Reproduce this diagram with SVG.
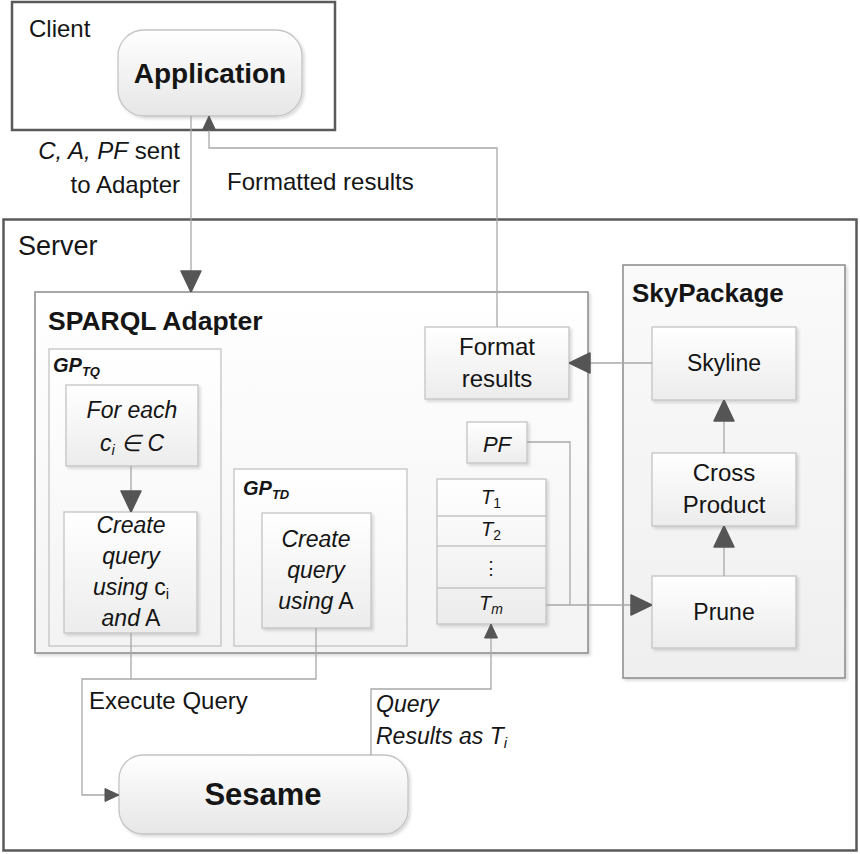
<svg xmlns="http://www.w3.org/2000/svg" width="860" height="854" viewBox="0 0 860 854">
  <defs>
    <linearGradient id="boxFill" x1="0" y1="0" x2="0" y2="1">
      <stop offset="0" stop-color="#ffffff"/>
      <stop offset="1" stop-color="#ececec"/>
    </linearGradient>
    <linearGradient id="panelFill" x1="0" y1="0" x2="0" y2="1">
      <stop offset="0" stop-color="#ffffff"/>
      <stop offset="1" stop-color="#f3f3f3"/>
    </linearGradient>
    <linearGradient id="skyFill" x1="0" y1="0" x2="0" y2="1">
      <stop offset="0" stop-color="#fafafa"/>
      <stop offset="1" stop-color="#efefef"/>
    </linearGradient>
    <linearGradient id="roundFill" x1="0" y1="0" x2="0" y2="1">
      <stop offset="0" stop-color="#ffffff"/>
      <stop offset="1" stop-color="#e6e6e6"/>
    </linearGradient>
    <filter id="shadow" x="-10%" y="-10%" width="130%" height="130%">
      <feDropShadow dx="2" dy="2" stdDeviation="1.5" flood-color="#000" flood-opacity="0.15"/>
    </filter>
    <marker id="arrowBig" viewBox="0 0 22 22" refX="22" refY="11" markerWidth="22" markerHeight="22" markerUnits="userSpaceOnUse" orient="auto">
      <path d="M1,1 L22,11 L1,21 Z" fill="#555" stroke="#555" stroke-width="1.5" stroke-linejoin="round"/>
    </marker>
    <marker id="arrowSmall" viewBox="0 0 15 15" refX="15" refY="7.5" markerWidth="15" markerHeight="15" markerUnits="userSpaceOnUse" orient="auto">
      <path d="M1,1 L15,7.5 L1,14 Z" fill="#555" stroke="#555" stroke-width="1" stroke-linejoin="round"/>
    </marker>
  </defs>
  <style>
    text { font-family: "Liberation Sans", Arial, sans-serif; fill: #151515; }
    .outer { fill: #ffffff; stroke: #5a5a5a; stroke-width: 2.5; }
    .panel { fill: url(#panelFill); stroke: #8a8a8a; stroke-width: 1.5; filter: url(#shadow); }
    .sky { fill: url(#skyFill); stroke: #8a8a8a; stroke-width: 1.5; filter: url(#shadow); }
    .group { fill: url(#panelFill); stroke: #c4c4c4; stroke-width: 1.3; }
    .box { fill: url(#boxFill); stroke: #c4c4c4; stroke-width: 1.3; filter: url(#shadow); }
    .round { fill: url(#roundFill); stroke: #c4c4c4; stroke-width: 1.3; filter: url(#shadow); }
    .row { fill: none; stroke: #c4c4c4; stroke-width: 1.3; }
    .conn { fill: none; stroke: #a8a8a8; stroke-width: 1.3; }
    .lbl { font-size: 24px; }
    .mid { text-anchor: middle; }
    .it { font-style: italic; }
    .bold { font-weight: bold; }
  </style>

  <!-- Client tier -->
  <g id="client">
    <rect class="outer" x="12" y="2" width="323" height="128"/>
    <text class="lbl" x="29" y="37">Client</text>
  </g>
  <g id="application">
    <rect class="round" x="118" y="30" width="184" height="86" rx="26" ry="26"/>
    <text class="mid bold" x="210" y="83" font-size="28">Application</text>
  </g>

  <!-- Server tier -->
  <g id="server">
    <rect class="outer" x="3.5" y="219.5" width="853" height="631"/>
    <text x="18" y="255" font-size="27">Server</text>
  </g>

  <g id="sparql-adapter">
    <rect class="panel" x="35" y="292" width="553" height="361"/>
    <text class="bold" x="48" y="330" font-size="26.5">SPARQL Adapter</text>
  </g>

  <g id="gp-tq">
    <rect class="group" x="49" y="349" width="172" height="297"/>
    <text class="bold it" x="53" y="372" font-size="20">GP<tspan font-size="13" dy="4">TQ</tspan></text>
  </g>
  <g id="for-each">
    <rect class="box" x="66" y="385" width="132" height="81"/>
    <text class="mid it" x="132" y="418" font-size="23">For each</text>
    <text class="mid it" x="132" y="451" font-size="23">c<tspan font-size="15" dy="4">i</tspan><tspan dy="-4"> ∈ C</tspan></text>
  </g>
  <g id="create-query-ci">
    <rect class="box" x="64" y="512" width="133" height="121"/>
    <text class="mid it" x="131" y="533" font-size="23">Create</text>
    <text class="mid it" x="131" y="564" font-size="23">query</text>
    <text class="mid" x="131" y="595" font-size="23"><tspan font-style="italic">using</tspan> c<tspan font-size="15" dy="4">i</tspan></text>
    <text class="mid" x="131" y="626" font-size="23"><tspan font-style="italic">and</tspan> A</text>
  </g>

  <g id="gp-td">
    <rect class="group" x="234" y="469" width="173" height="177"/>
    <text class="bold it" x="243" y="495" font-size="20">GP<tspan font-size="13" dy="4">TD</tspan></text>
  </g>
  <g id="create-query-a">
    <rect class="box" x="262" y="513" width="109" height="115"/>
    <text class="mid it" x="316" y="547" font-size="23">Create</text>
    <text class="mid it" x="316" y="578" font-size="23">query</text>
    <text class="mid" x="316" y="609" font-size="23"><tspan font-style="italic">using</tspan> A</text>
  </g>

  <g id="format-results">
    <rect class="box" x="425" y="327" width="144" height="72"/>
    <text class="mid lbl" x="497" y="355">Format</text>
    <text class="mid lbl" x="497" y="387">results</text>
  </g>

  <g id="pf">
    <rect class="box" x="467" y="422" width="60" height="41"/>
    <text class="mid it" x="497" y="452" font-size="22">PF</text>
  </g>

  <g id="result-tables">
    <rect class="box" x="437" y="479" width="109" height="145"/>
    <line class="row" x1="437" y1="516" x2="546" y2="516"/>
    <line class="row" x1="437" y1="546" x2="546" y2="546"/>
    <line class="row" x1="437" y1="588" x2="546" y2="588"/>
    <text class="mid" x="491" y="504" font-size="20"><tspan font-style="italic">T</tspan><tspan font-size="14" dy="4">1</tspan></text>
    <text class="mid" x="491" y="536" font-size="20"><tspan font-style="italic">T</tspan><tspan font-size="14" dy="4">2</tspan></text>
    <text class="mid" x="491" y="574" font-size="18">⋮</text>
    <text class="mid" x="491" y="610" font-size="20"><tspan font-style="italic">T</tspan><tspan font-style="italic" font-size="14" dy="4">m</tspan></text>
  </g>

  <g id="skypackage">
    <rect class="sky" x="623" y="265" width="222" height="413"/>
    <text class="bold" x="632" y="302" font-size="26">SkyPackage</text>
  </g>
  <g id="skyline">
    <rect class="box" x="652" y="327" width="144" height="73"/>
    <text class="mid" x="724" y="371" font-size="23">Skyline</text>
  </g>
  <g id="cross-product">
    <rect class="box" x="652" y="453" width="144" height="73"/>
    <text class="mid lbl" x="724" y="481">Cross</text>
    <text class="mid lbl" x="724" y="513">Product</text>
  </g>
  <g id="prune">
    <rect class="box" x="652" y="576" width="144" height="72"/>
    <text class="mid" x="724" y="620" font-size="23">Prune</text>
  </g>

  <g id="sesame">
    <rect class="round" x="119" y="755" width="289" height="79" rx="24" ry="24"/>
    <text class="mid bold" x="263" y="805" font-size="31">Sesame</text>
  </g>

  <!-- Connectors -->
  <g id="connectors">
    <path class="conn" d="M191,116 V292" marker-end="url(#arrowBig)"/>
    <path class="conn" d="M497,327 V148 H209 V116" marker-end="url(#arrowSmall)"/>
    <path class="conn" d="M652,363 H569" marker-end="url(#arrowBig)"/>
    <path class="conn" d="M724,453 V400" marker-end="url(#arrowBig)"/>
    <path class="conn" d="M724,576 V526" marker-end="url(#arrowBig)"/>
    <path class="conn" d="M131,466 V512" marker-end="url(#arrowBig)"/>
    <path class="conn" d="M527,442 H570 V605"/>
    <path class="conn" d="M546,605 H652" marker-end="url(#arrowBig)"/>
    <path class="conn" d="M131,633 V679"/>
    <path class="conn" d="M316,628 V679 H82 V795 H119" marker-end="url(#arrowSmall)"/>
    <path class="conn" d="M371,755 V689 H491 V624" marker-end="url(#arrowSmall)"/>
  </g>

  <!-- Connector labels -->
  <g id="connector-labels">
    <text class="lbl" x="180" y="159" text-anchor="end"><tspan font-style="italic">C, A, PF</tspan> sent</text>
    <text class="lbl" x="180" y="193" text-anchor="end">to Adapter</text>
    <text class="lbl" x="227" y="190">Formatted results</text>
    <text class="lbl" x="89" y="709">Execute Query</text>
    <text class="it" x="376" y="712" font-size="23">Query</text>
    <text class="it" x="376" y="744" font-size="23">Results as T<tspan font-size="15" dy="4">i</tspan></text>
  </g>
</svg>
